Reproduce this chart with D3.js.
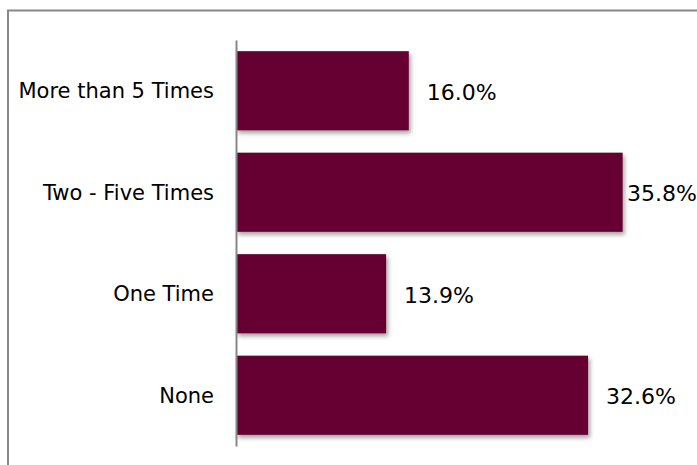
<!DOCTYPE html>
<html>
<head>
<meta charset="utf-8">
<script src="https://cdn.jsdelivr.net/npm/d3@7"></script>
<style>
  body { margin: 0; background: #fff; }
  svg text { font-family: 'Century Gothic', 'DejaVu Sans', sans-serif; fill: #000; }
</style>
</head>
<body>
<div id="chart"></div>
<script>
let categories = ['More than 5 Times', 'Two - Five Times', 'One Time', 'None']
let percents = [16.0, 35.8, 13.9, 32.6]

let width = 697
let height = 465

let svg = d3
  .select('#chart')
  .append('svg')
  .attr('width', width)
  .attr('height', height)

// drop shadow under the bars
let defs = svg.append('defs')
defs
  .append('filter')
  .attr('id', 'shadow')
  .attr('x', '-5%')
  .attr('y', '-5%')
  .attr('width', '115%')
  .attr('height', '130%')
  .append('feDropShadow')
  .attr('dx', 2)
  .attr('dy', 3)
  .attr('stdDeviation', 2)
  .attr('flood-color', '#000')
  .attr('flood-opacity', 0.35)

// outer frame (runs off the right and bottom edge)
svg
  .append('rect')
  .attr('x', 8)
  .attr('y', 10.5)
  .attr('width', 720)
  .attr('height', 480)
  .attr('fill', 'none')
  .attr('stroke', '#888')
  .attr('stroke-width', 2)

let xPositionScale = d3.scaleLinear().domain([0, 40]).range([236, 668])
let yPositionScale = d3
  .scaleBand()
  .domain(categories)
  .range([40, 446])
  .paddingInner(0.22)
  .paddingOuter(0.11)

svg
  .selectAll('.bar')
  .data(percents)
  .enter()
  .append('rect')
  .attr('class', 'bar')
  .attr('x', xPositionScale(0))
  .attr('y', (d, i) => yPositionScale(categories[i]))
  .attr('width', d => xPositionScale(d) - xPositionScale(0))
  .attr('height', yPositionScale.bandwidth())
  .attr('fill', '#660033')
  .attr('filter', 'url(#shadow)')

let yAxis = d3.axisLeft(yPositionScale).tickSize(0).tickPadding(22)
svg
  .append('g')
  .attr('class', 'axis y-axis')
  .attr('transform', 'translate(' + xPositionScale(0) + ',0)')
  .call(yAxis)
  .call(g => g.select('.domain').attr('stroke', '#888').attr('stroke-width', 2))
  .call(g =>
    g
      .selectAll('text')
      .attr('font-size', 21)
      .attr('dy', '0.35em')
      .style('font-family', "'Century Gothic', 'DejaVu Sans', sans-serif")
  )

svg
  .selectAll('.value-label')
  .data(percents)
  .enter()
  .append('text')
  .attr('class', 'value-label')
  .attr('font-size', 22)
  .attr('y', (d, i) => yPositionScale(categories[i]) + yPositionScale.bandwidth() / 2)
  .attr('dy', '0.4em')
  .text(d => d.toFixed(1) + '%')
  .attr('x', function(d) {
    let w = this.getComputedTextLength()
    return Math.min(xPositionScale(d) + 18, width - w)
  })
</script>
</body>
</html>
